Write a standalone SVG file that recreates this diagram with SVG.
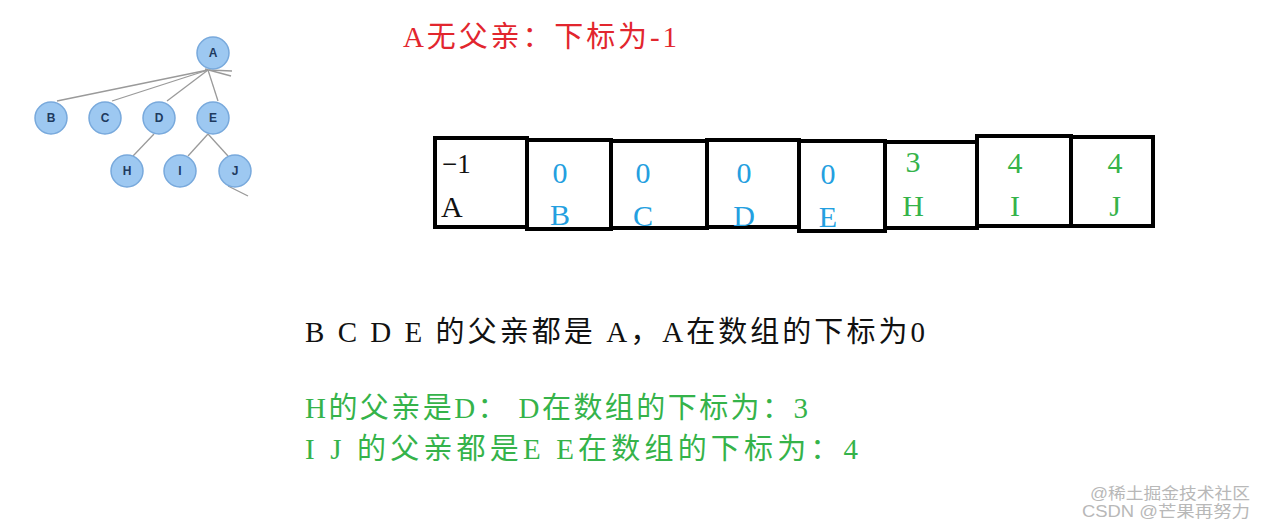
<svg xmlns="http://www.w3.org/2000/svg" width="1265" height="527" viewBox="0 0 1265 527">
<style>
.bg{fill:#ffffff}
.edge{stroke:#9a9a9a;stroke-width:1.3;fill:none}
.node circle{fill:#9dc8f1;stroke:#78a9dc;stroke-width:1.5}
.node text{font-family:"Liberation Sans",Arial,sans-serif;font-weight:bold;font-size:12px;fill:#1e3a5f;text-anchor:middle}
.cell{fill:#ffffff;stroke:#000000;stroke-width:4}
.t{font-family:"Liberation Serif","Noto Sans CJK SC",serif}
.big{font-size:29px}
.cv{font-size:30px;text-anchor:middle}
.red{fill:#e2262e}
.blk{fill:#111111}
.blue{fill:#249fe0}
.green{fill:#35b34a}
.wm{font-family:"Liberation Sans","Noto Sans CJK SC",sans-serif;font-size:16px;fill:#b8b8b8}
</style>
<rect class="bg" x="0" y="0" width="1265" height="527"/>

<g id="connectors">
<line class="edge" x1="208" y1="70" x2="57" y2="101"/>
<line class="edge" x1="208" y1="70" x2="112" y2="101"/>
<line class="edge" x1="208" y1="70" x2="167" y2="101"/>
<line class="edge" x1="208" y1="70" x2="218" y2="101"/>
<line class="edge" x1="205" y1="69" x2="231" y2="76"/>
<line class="edge" x1="209" y1="70" x2="232" y2="71"/>
<line class="edge" x1="154" y1="134" x2="133" y2="156"/>
<line class="edge" x1="208" y1="134" x2="188" y2="156"/>
<line class="edge" x1="208" y1="134" x2="228" y2="156"/>
<line class="edge" x1="228" y1="186" x2="248" y2="196"/>
</g>

<g id="node-A" class="node"><circle cx="213" cy="53" r="16"/><text x="213" y="57">A</text></g>
<g id="node-B" class="node"><circle cx="51" cy="118" r="16"/><text x="51" y="122">B</text></g>
<g id="node-C" class="node"><circle cx="105" cy="118" r="16"/><text x="105" y="122">C</text></g>
<g id="node-D" class="node"><circle cx="159" cy="118" r="16"/><text x="159" y="122">D</text></g>
<g id="node-E" class="node"><circle cx="213" cy="118" r="16"/><text x="213" y="122">E</text></g>
<g id="node-H" class="node"><circle cx="127" cy="171" r="16"/><text x="127" y="175">H</text></g>
<g id="node-I" class="node"><circle cx="180" cy="171" r="16"/><text x="180" y="175">I</text></g>
<g id="node-J" class="node"><circle cx="235" cy="171" r="16"/><text x="235" y="175">J</text></g>

<g id="title"><text class="t red big" x="403" y="47" textLength="274" lengthAdjust="spacing">A无父亲：下标为-1</text></g>

<g id="array">
<g id="cell-0"><rect class="cell" x="435" y="138" width="92" height="89"/>
<text class="t blk" x="442" y="173" font-size="27">−1</text>
<text class="t blk" x="441" y="217" font-size="30">A</text></g>
<g id="cell-1"><rect class="cell" x="527" y="140" width="84" height="89"/>
<text class="t blue cv" x="560" y="183">0</text><text class="t blue cv" x="560" y="225">B</text></g>
<g id="cell-2"><rect class="cell" x="611" y="141" width="96" height="87"/>
<text class="t blue cv" x="643" y="183">0</text><text class="t blue cv" x="643" y="226">C</text></g>
<g id="cell-3"><rect class="cell" x="707" y="140" width="92" height="87"/>
<text class="t blue cv" x="744" y="183">0</text><text class="t blue cv" x="744" y="226">D</text></g>
<g id="cell-4"><rect class="cell" x="799" y="141" width="86" height="90"/>
<text class="t blue cv" x="828" y="184">0</text><text class="t blue cv" x="828" y="227">E</text></g>
<g id="cell-5"><rect class="cell" x="885" y="142" width="92" height="86"/>
<text class="t green cv" x="913" y="172">3</text><text class="t green cv" x="913" y="216">H</text></g>
<g id="cell-6"><rect class="cell" x="977" y="136" width="94" height="90"/>
<text class="t green cv" x="1015" y="173">4</text><text class="t green cv" x="1015" y="216">I</text></g>
<g id="cell-7"><rect class="cell" x="1071" y="137" width="82" height="89"/>
<text class="t green cv" x="1115" y="173">4</text><text class="t green cv" x="1115" y="216">J</text></g>
</g>

<g id="notes">
<text class="t blk big" x="305" y="342" textLength="620" lengthAdjust="spacing">B C D E 的父亲都是 A，A在数组的下标为0</text>
<text class="t green big" x="305" y="418" textLength="503" lengthAdjust="spacing">H的父亲是D： D在数组的下标为：3</text>
<text class="t green big" x="305" y="459" textLength="553" lengthAdjust="spacing">I J 的父亲都是E E在数组的下标为：4</text>
</g>

<g id="watermark">
<text class="wm" x="1090" y="499" textLength="160" lengthAdjust="spacingAndGlyphs">@稀土掘金技术社区</text>
<text class="wm" x="1082" y="517" textLength="168" lengthAdjust="spacingAndGlyphs">CSDN @芒果再努力</text>
</g>
</svg>
